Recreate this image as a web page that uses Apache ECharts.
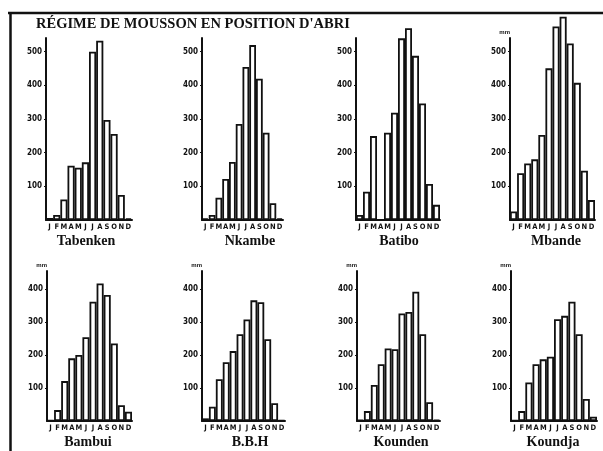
<!DOCTYPE html>
<html>
<head>
<meta charset="utf-8">
<script src="https://cdn.jsdelivr.net/npm/echarts@6/dist/echarts.min.js"></script>
<style>
  html, body { margin: 0; padding: 0; background: #fff; }
  #chart { width: 603px; height: 451px; }
</style>
</head>
<body>
<div id="chart"></div>
<script>
// Monthly rainfall (mm) at eight stations, monsoon regime in sheltered position
const months = ['J', 'F', 'M', 'A', 'M', 'J', 'J', 'A', 'S', 'O', 'N', 'D'];
const stations = ['Tabenken', 'Nkambe', 'Batibo', 'Mbande', 'Bambui', 'B.B.H', 'Kounden', 'Koundja'];

const tabenken = [6, 15, 61, 161, 155, 171, 499, 532, 297, 255, 74, 5];
const nkambe   = [5, 15, 66, 122, 172, 285, 454, 519, 419, 259, 50, 5];
const batibo   = [15, 84, 249, 0, 259, 318, 539, 569, 487, 346, 107, 45];
const mbande   = [25, 139, 168, 180, 252, 450, 574, 603, 524, 407, 146, 59];
const bambui   = [2, 33, 121, 190, 200, 254, 362, 417, 382, 235, 48, 28];
const bbh      = [8, 43, 127, 178, 212, 263, 308, 366, 360, 248, 54, 2];
const kounden  = [3, 30, 109, 172, 220, 218, 326, 331, 392, 263, 57, 3];
const koundja  = [2, 30, 117, 172, 187, 195, 309, 319, 362, 263, 67, 13];

const topTicks = [100, 200, 300, 400, 500];
const bottomTicks = [100, 200, 300, 400];
const unitLabel = 'mm';

const series = [tabenken, nkambe, batibo, mbande, bambui, bbh, kounden, koundja];

// panel frames: [left, top, width, height, axis max]
const frames = [
  [46, 38, 86, 182, 540], [202, 38, 81, 182, 540], [356, 38, 84, 182, 540], [510, 38, 85, 182, 540],
  [47, 271, 85, 150, 455], [202, 271, 83, 150, 455], [357, 271, 83, 150, 455], [511, 271, 86, 150, 455]
];
// station name centres
const nameAt = [[86, 242], [250, 242], [399, 242], [556, 242], [88, 443], [250, 443], [401, 443], [553, 443]];
// which panels carry the unit label
const showUnit = [false, false, false, true, true, true, true, true];

const ink = '#111';
const serif = '"Liberation Serif", "DejaVu Serif", serif';
const sans = '"Liberation Sans", "DejaVu Sans", sans-serif';
const narrow = '"DejaVu Sans Condensed", "Liberation Sans Narrow", "Liberation Sans", sans-serif';

const grid = [], xAxis = [], yAxis = [], seriesOpts = [];
const titles = [{
  text: "RÉGIME DE MOUSSON EN POSITION D'ABRI",
  left: 36, top: 17, padding: 0,
  textStyle: { fontFamily: serif, fontSize: 14.5, fontWeight: 'bold', color: ink }
}];

frames.forEach((f, i) => {
  const ticks = i < 4 ? topTicks : bottomTicks;
  grid.push({ left: f[0], top: f[1], width: f[2], height: f[3], containLabel: false });
  xAxis.push({
    type: 'category', gridIndex: i, data: months,
    axisLine: { lineStyle: { color: ink, width: 2 } },
    axisTick: { show: false },
    axisLabel: { interval: 0, margin: 3, fontSize: 7.5, fontWeight: 'bold', fontFamily: narrow, color: ink }
  });
  yAxis.push({
    type: 'value', gridIndex: i, min: 0, max: f[4],
    name: showUnit[i] ? unitLabel : '',
    nameLocation: 'end', nameGap: 3,
    nameTextStyle: { fontSize: 6, fontWeight: 'bold', fontFamily: sans, color: ink, align: 'right', padding: [0, 0, 0, 0] },
    splitLine: { show: false },
    axisLine: { show: true, lineStyle: { color: ink, width: 2 } },
    axisTick: { show: true, length: 2, customValues: ticks, lineStyle: { color: ink, width: 1 } },
    axisLabel: { customValues: ticks, margin: 4, fontSize: 8, fontWeight: 'bold', fontFamily: narrow, color: ink }
  });
  seriesOpts.push({
    type: 'bar', xAxisIndex: i, yAxisIndex: i, data: series[i],
    barWidth: '100%', clip: false, silent: true,
    itemStyle: { color: '#fff', borderColor: ink, borderWidth: 1.8 }
  });
  titles.push({
    text: stations[i], left: nameAt[i][0], top: nameAt[i][1] - 8, textAlign: 'center', padding: 0,
    textStyle: { fontFamily: serif, fontSize: 14, fontWeight: 'bold', color: ink }
  });
});

const chart = echarts.init(document.getElementById('chart'), null, { renderer: 'canvas' });
chart.setOption({
  backgroundColor: '#fff',
  animation: false,
  title: titles,
  grid: grid,
  xAxis: xAxis,
  yAxis: yAxis,
  series: seriesOpts,
  graphic: [
    { type: 'line', shape: { x1: 8, y1: 13, x2: 603, y2: 13 }, style: { stroke: ink, lineWidth: 2.5 } },
    { type: 'line', shape: { x1: 10.5, y1: 12, x2: 10.5, y2: 451 }, style: { stroke: ink, lineWidth: 2.5 } }
  ]
});
</script>
</body>
</html>
